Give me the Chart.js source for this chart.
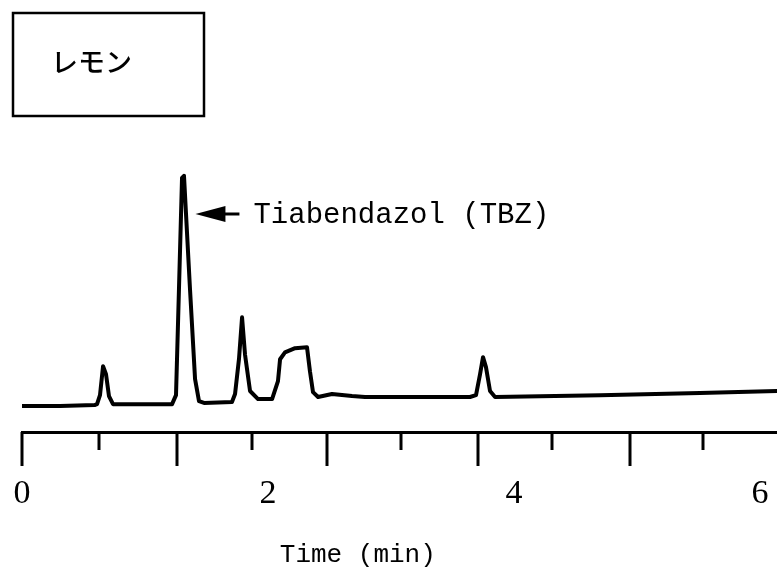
<!DOCTYPE html>
<html>
<head>
<meta charset="utf-8">
<script src="https://cdn.jsdelivr.net/npm/chart.js@4/dist/chart.umd.min.js"></script>
<style>
  html, body { margin: 0; padding: 0; background: #fff; }
  canvas { display: block; }
</style>
</head>
<body>
<canvas id="chrom" width="777" height="576"></canvas>
<script>
// ==================== DATOS ====================

// tiempo de retencion (min)
const timeMin = [
    0, 0.31, 0.59, 0.61, 0.634, 0.659, 0.683, 0.707, 0.74,
    1.22, 1.252, 1.276, 1.301, 1.317, 1.366, 1.407, 1.439, 1.48,
    1.707, 1.732, 1.764, 1.789, 1.813, 1.854, 1.919,
    2.033, 2.081, 2.098, 2.138, 2.22, 2.317, 2.341, 2.366, 2.407, 2.52, 2.683, 2.789,
    3.642, 3.691, 3.724, 3.748, 3.772, 3.805, 3.846,
    4.699, 5.512, 6.138
];

// senal del detector (unidades relativas)
const signal = [
    -0.4, -0.4, 0, 0.4, 4.3, 16.9, 13.4, 3.9, 0.4,
    0.4, 4.3, 50.2, 98.7, 99.6, 50.2, 11.3, 1.7, 0.9,
    1.3, 4.8, 20, 38.1, 22, 6.1, 2.6,
    2.6, 10.4, 19.9, 22.9, 24.7, 25.1, 14.7, 5.6, 3.5, 4.8, 3.9, 3.5,
    3.5, 4.3, 13.4, 20.8, 16.5, 6.1, 3.5,
    4.3, 5.2, 6.1
];

// etiquetas del eje X y marcas de division
const timeLabels = [0, 2, 4, 6];
const tickMarks = [0, 0.63, 1.26, 1.87, 2.48, 3.08, 3.71, 4.31, 4.94, 5.54];

const sampleName = 'レモン';
const peakName = 'Tiabendazol (TBZ)';
const peakArrowAt = { t: 1.41, s: 83 };
const axisTitle = 'Time (min)';
const axisTitleAt = 2.73;

// ==================== PLUGIN: marcas, recuadro y anotaciones ====================

const decorPlugin = {
    id: 'decor',
    afterDraw(chart) {
        const ctx = chart.ctx;
        const x = chart.scales.x;
        const y = chart.scales.y;
        const base = chart.chartArea.bottom;

        ctx.save();
        ctx.strokeStyle = '#000';
        ctx.fillStyle = '#000';

        // marcas del eje (largas y cortas alternadas)
        ctx.lineWidth = 3;
        tickMarks.forEach(function(v, i) {
            const px = Math.round(x.getPixelForValue(v));
            ctx.beginPath();
            ctx.moveTo(px, base);
            ctx.lineTo(px, base + (i % 2 === 0 ? 34 : 18));
            ctx.stroke();
        });

        // recuadro con el nombre de la muestra
        ctx.lineWidth = 2.5;
        ctx.strokeRect(13, 13, 191, 103);
        ctx.font = '500 27px "Noto Sans CJK JP"';
        ctx.textBaseline = 'middle';
        ctx.textAlign = 'left';
        ctx.fillText(sampleName, 51, 62);

        // flecha hacia el pico de TBZ
        const ax = x.getPixelForValue(peakArrowAt.t);
        const ay = y.getPixelForValue(peakArrowAt.s);
        ctx.beginPath();
        ctx.moveTo(ax, ay);
        ctx.lineTo(ax + 30, ay - 8);
        ctx.lineTo(ax + 30, ay + 8);
        ctx.closePath();
        ctx.fill();
        ctx.lineWidth = 3;
        ctx.beginPath();
        ctx.moveTo(ax + 28, ay);
        ctx.lineTo(ax + 44, ay);
        ctx.stroke();

        ctx.font = '29px "Liberation Mono"';
        ctx.fillText(peakName, ax + 58, ay + 1);

        // titulo del eje X
        ctx.font = '26px "Liberation Mono"';
        ctx.textAlign = 'center';
        ctx.fillText(axisTitle, x.getPixelForValue(axisTitleAt), 555);

        ctx.restore();
    }
};

// ==================== GRAFICO ====================

const points = timeMin.map(function(t, i) {
    return { x: t, y: signal[i] };
});

new Chart(document.getElementById('chrom'), {
    type: 'line',
    data: {
        datasets: [{
            data: points,
            borderColor: '#000',
            borderWidth: 4,
            borderJoinStyle: 'round',
            borderCapStyle: 'round',
            pointRadius: 0,
            tension: 0,
            fill: false
        }]
    },
    options: {
        responsive: false,
        animation: false,
        layout: {
            padding: { top: 150, left: 22, right: 0, bottom: 0 }
        },
        plugins: {
            legend: { display: false },
            tooltip: { enabled: false }
        },
        scales: {
            x: {
                type: 'linear',
                min: 0,
                max: 6.138,
                afterBuildTicks: function(scale) {
                    scale.ticks = timeLabels.map(function(v) { return { value: v }; });
                },
                afterFit: function(scale) {
                    scale.height = 144;
                    scale.paddingLeft = 0;
                    scale.paddingRight = 0;
                },
                grid: { display: false, drawTicks: false },
                border: { display: true, color: '#000', width: 3 },
                ticks: {
                    color: '#000',
                    padding: 42,
                    maxRotation: 0,
                    autoSkip: false,
                    font: { family: '"Liberation Serif"', size: 34 }
                }
            },
            y: {
                display: false,
                min: -11.7,
                max: 110.8
            }
        }
    },
    plugins: [decorPlugin]
});
</script>
</body>
</html>
